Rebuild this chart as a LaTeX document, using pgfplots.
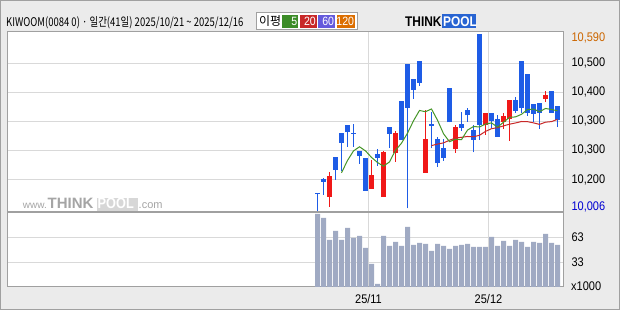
\documentclass[border=0pt]{standalone}
\usepackage{fontspec}
\usepackage{pgfplots}
\usepackage{pgfplotstable}
\pgfplotsset{compat=1.18}
\setmainfont{Liberation Sans}
\newfontfamily\kr[FakeStretch=0.79]{Noto Sans CJK KR}
\newfontfamily\krn{Noto Sans CJK KR}
\newfontfamily\lbl[FakeStretch=0.88]{Liberation Sans}
\newfontfamily\logo[FakeStretch=0.85]{Liberation Sans}
\definecolor{cbg}{RGB}{235,235,235}
\definecolor{cframe}{RGB}{160,160,160}
\definecolor{cgrid}{RGB}{217,217,217}
\definecolor{cup}{RGB}{240,24,24}
\definecolor{cdown}{RGB}{30,92,230}
\definecolor{cma5}{RGB}{70,150,40}
\definecolor{cma20}{RGB}{200,40,40}
\definecolor{cvol}{RGB}{160,170,195}
\definecolor{corange}{RGB}{204,102,0}
\definecolor{cminblue}{RGB}{0,0,210}
\definecolor{lg5}{RGB}{60,140,40}
\definecolor{lg20}{RGB}{200,40,40}
\definecolor{lg60}{RGB}{100,90,220}
\definecolor{lg120}{RGB}{220,110,0}
\definecolor{cpool}{RGB}{40,100,210}
\definecolor{cwm}{RGB}{165,165,165}
\definecolor{cwmbox}{RGB}{215,215,215}

% down (blue) candles
\pgfplotstableread{
i O H L C
0 10064 10064 10006 10061
1 10110 10114 10058 10102
3 10185 10185 10108 10141
4 10264 10264 10137 10231
5 10289 10289 10218 10266
6 10263 10293 10218 10260
7 10203 10203 10161 10188
8 10180 10180 10072 10072
10 10194 10209 10154 10181
12 10283 10283 10213 10260
14 10369 10369 10241 10241
15 10491 10491 10014 10346
16 10441 10441 10376 10406
17 10501 10501 10419 10429
19 10293 10333 10212 10286
20 10243 10249 10151 10163
21 10214 10242 10171 10181
22 10411 10411 10298 10298
24 10293 10333 10270 10280
25 10339 10344 10300 10321
26 10273 10290 10199 10240
27 10590 10590 10241 10290
29 10329 10329 10279 10302
30 10310 10323 10251 10251
33 10372 10381 10330 10337
34 10502 10502 10329 10345
35 10458 10458 10320 10329
36 10359 10359 10299 10327
37 10362 10362 10277 10329
39 10403 10403 10329 10329
40 10352 10352 10282 10307
}\down
% up (red) candles
\pgfplotstableread{
i O H L C
2 10052 10134 10019 10121
9 10078 10174 10078 10124
11 10052 10202 10052 10200
13 10198 10270 10168 10263
18 10132 10339 10132 10243
23 10209 10289 10198 10282
28 10290 10329 10257 10329
31 10300 10329 10277 10319
32 10310 10372 10237 10372
38 10375 10402 10365 10389
}\up
\pgfplotstableread{
i M
4 10131.3
5 10172.0
6 10203.7
7 10217.2
8 10203.7
9 10182.2
10 10165.3
11 10153.1
12 10167.3
13 10205.7
14 10229.1
15 10262.2
16 10303.2
17 10337.2
18 10333.2
19 10342.2
20 10305.1
21 10260.5
22 10234.1
23 10242.0
24 10240.7
25 10272.4
26 10284.3
27 10282.7
28 10292.2
29 10296.2
30 10282.3
31 10298.2
32 10314.4
33 10316.0
34 10324.6
35 10340.5
36 10341.8
37 10333.2
38 10343.8
39 10340.5
40 10336.2
}\mafive
\pgfplotstableread{
i M
19 10221.2
20 10226.2
21 10230.1
22 10239.0
23 10246.0
24 10248.6
25 10251.3
26 10250.3
27 10255.2
28 10268.1
29 10277.0
30 10280.4
31 10286.3
32 10291.9
33 10295.9
34 10300.8
35 10300.2
36 10296.2
37 10291.3
38 10298.5
39 10300.5
40 10307.8
}\matwenty
\pgfplotstableread{
i V
0 91.0
1 86.2
2 59.8
3 70.6
4 59.8
5 74.2
6 62.2
7 64.6
8 50.2
9 31.0
10 7.0
11 64.6
12 52.6
13 57.4
14 52.6
15 75.4
16 53.8
17 56.2
18 55.0
19 46.6
20 55.0
21 52.6
22 49.0
23 52.6
24 53.8
25 55.0
26 51.4
27 51.4
28 51.4
29 63.4
30 52.6
31 58.6
32 52.6
33 59.8
34 57.4
35 51.4
36 57.4
37 56.2
38 67.0
39 56.2
40 53.8
}\vol

\begin{document}
\begin{tikzpicture}[x=1pt,y=1pt]
\useasboundingbox (0,0) rectangle (620,310);
\fill[cbg] (0,0) rectangle (620,310);
\draw[cframe, line width=1pt] (0.5,0.5) rectangle (619.5,309.5);
\fill[white] (7,23) rectangle (563,278);

% watermark
\node[anchor=base west, inner sep=0, text=cwm, font=\fontsize{10}{10}\selectfont] at (22.7,101) {www.};
\node[anchor=base west, inner sep=0, text=cwm, font=\bfseries\fontsize{15}{15}\selectfont] at (47.5,101) {THINK};
\fill[cwmbox] (96.7,99) rectangle (138.3,112);
\node[anchor=base west, inner sep=0, text=white, font=\logo\bfseries\fontsize{15}{15}\selectfont] at (97.5,101) {POOL};
\node[anchor=base west, inner sep=0, text=cwm, font=\fontsize{11}{11}\selectfont] at (138.5,101) {.com};

\begin{axis}[
  at={(7pt,98pt)}, anchor=south west,
  scale only axis, width=556pt, height=180pt,
  xmin=-51.75, xmax=40.917,
  ymin=10001.7, ymax=10596.6,
  scaled y ticks=false,
  axis line style={draw=cframe, line width=1pt},
  xtick={8.5,28.5}, xticklabels={,,},
  xmajorgrids, ymajorgrids,
  grid style={draw=cgrid, line width=1pt},
  ytick={10493.2,10397.4,10301.5,10205.7,10108.5},
  yticklabels={{10,500},{10,400},{10,300},{10,300},{10,200}},
  yticklabel pos=right,
  major tick length=0pt,
  yticklabel style={font=\lbl\fontsize{12.5}{13}\selectfont, anchor=west, xshift=5pt},
  extra y ticks={10575.8,10018.3},
  extra y tick labels={{\textcolor{corange}{10,590}},{\textcolor{cminblue}{10,006}}},
  extra y tick style={grid=none},
]
% wicks
\addplot[draw=none, mark=none, forget plot,
  error bars/.cd, y dir=plus, y explicit, error mark=none,
  error bar style={draw=cdown, line width=1pt}]
  table[x=i, y=L, y error plus expr={\thisrow{H}-\thisrow{L}}] {\down};
\addplot[draw=none, mark=none, forget plot,
  error bars/.cd, y dir=plus, y explicit, error mark=none,
  error bar style={draw=cup, line width=1pt}]
  table[x=i, y=L, y error plus expr={\thisrow{H}-\thisrow{L}}] {\up};
% bodies
\addplot[draw=none, mark=none, forget plot,
  error bars/.cd, y dir=plus, y explicit, error mark=none,
  error bar style={draw=cdown, line width=5pt}]
  table[x=i, y=C, y error plus expr={\thisrow{O}-\thisrow{C}}] {\down};
\addplot[draw=none, mark=none, forget plot,
  error bars/.cd, y dir=plus, y explicit, error mark=none,
  error bar style={draw=cup, line width=5pt}]
  table[x=i, y=O, y error plus expr={\thisrow{C}-\thisrow{O}}] {\up};
% moving averages
\addplot[cma20, line width=1pt, mark=none] table[x=i, y=M] {\matwenty};
\addplot[cma5, line width=1pt, mark=none] table[x=i, y=M] {\mafive};
\end{axis}

\begin{axis}[
  at={(7pt,23pt)}, anchor=south west,
  scale only axis, width=556pt, height=75pt,
  xmin=-51.75, xmax=40.917,
  ymin=3.36, ymax=93.36,
  axis line style={draw=cframe, line width=1pt},
  xtick={8.5,28.5}, xticklabels={25/11,25/12},
  xticklabel style={font=\lbl\fontsize{12.5}{13}\selectfont, yshift=-4pt},
  xmajorgrids, ymajorgrids,
  grid style={draw=cgrid, line width=1pt},
  ytick={63,33}, yticklabels={63,33},
  yticklabel pos=right,
  major tick length=0pt,
  yticklabel style={font=\lbl\fontsize{12.5}{13}\selectfont, anchor=west, xshift=5pt},
  ybar, bar width=5pt,
]
\addplot[fill=cvol, draw=none] table[x=i, y=V] {\vol};
\end{axis}

\node[anchor=west, inner sep=0, font=\lbl\fontsize{12.5}{13}\selectfont] at (571,23.5) {x1000};

% header title
\node[anchor=base west, inner sep=0, font=\kr\fontsize{12}{12}\selectfont] at (6,283.7) {KIWOOM(0084 0) · 일간(41일) 2025/10/21 \textasciitilde{} 2025/12/16};

% legend box
\draw[cframe, fill=white, line width=1pt] (256,280.7) rectangle (357,297.3);
\node[anchor=base west, inner sep=0, font=\krn\fontsize{12}{12}\selectfont] at (259,284) {이평};
\fill[lg5] (281.7,281.7) rectangle (298.3,295);
\fill[lg20] (300,281.7) rectangle (316.7,295);
\fill[lg60] (318.3,281.7) rectangle (335,295);
\fill[lg120] (336.7,281.7) rectangle (355,295);
\node[anchor=base east, inner sep=0, text=white, font=\lbl\fontsize{12}{12}\selectfont] at (297.5,284) {5};
\node[anchor=base east, inner sep=0, text=white, font=\lbl\fontsize{12}{12}\selectfont] at (316,284) {20};
\node[anchor=base east, inner sep=0, text=white, font=\lbl\fontsize{12}{12}\selectfont] at (334.3,284) {60};
\node[anchor=base east, inner sep=0, text=white, font=\lbl\fontsize{12}{12}\selectfont] at (354.3,284) {120};

% logo
\node[anchor=base west, inner sep=0, font=\logo\bfseries\fontsize{14}{14}\selectfont] at (405,283.5) {THINK};
\fill[cpool] (442,281.5) rectangle (476,296);
\node[anchor=base west, inner sep=0, text=white, font=\logo\bfseries\fontsize{14}{14}\selectfont] at (443,283.5) {POOL};
\end{tikzpicture}
\end{document}
